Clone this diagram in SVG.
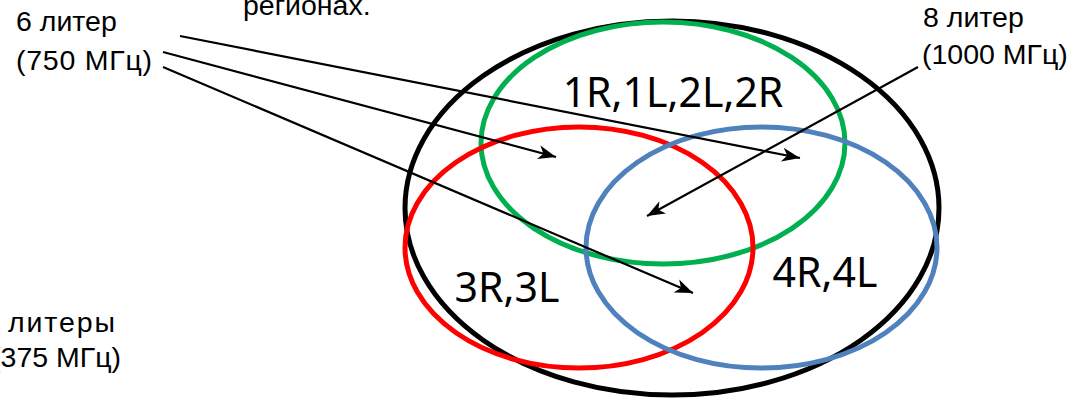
<svg xmlns="http://www.w3.org/2000/svg" width="1092" height="400" viewBox="0 0 1092 400">
  <style>
    .lbl { font-family: "Liberation Sans", Arial, sans-serif; font-size: 28.5px; fill: #000; }
    .big { font-family: "Noto Sans", "Liberation Sans", sans-serif; font-size: 41px; fill: #000; }
    .set { fill: none; stroke-width: 5; }
    .arrow { fill: none; stroke: #000; stroke-width: 2.2; marker-end: url(#head); }
  </style>
  <defs>
    <marker id="head" markerUnits="userSpaceOnUse" markerWidth="20" markerHeight="16" viewBox="0 0 20 16" refX="18" refY="8" orient="auto">
      <path d="M0,1 L18,8 L0,15 L5,8 Z" fill="#000"/>
    </marker>
  </defs>
  <rect width="1092" height="400" fill="#fff"/>

  <!-- sets -->
  <g id="outer"><ellipse class="set" cx="672" cy="208" rx="267" ry="187" stroke="#000" stroke-width="4.5"/></g>
  <g id="green-set"><ellipse class="set" cx="663" cy="143" rx="182" ry="121" stroke="#00B050"/></g>
  <g id="red-set"><ellipse class="set" cx="579" cy="247.5" rx="174" ry="120.5" stroke="#FF0000"/></g>
  <g id="blue-set"><ellipse class="set" cx="761.5" cy="247.5" rx="175.5" ry="120.5" stroke="#4F81BD"/></g>

  <!-- region labels -->
  <g id="region-top"><text class="big" x="673" y="107" text-anchor="middle">1R,1L,2L,2R</text></g>
  <g id="region-left"><text class="big" x="507" y="302" text-anchor="middle">3R,3L</text></g>
  <g id="region-right"><text class="big" x="825" y="287" text-anchor="middle">4R,4L</text></g>

  <!-- callout labels -->
  <g id="label-6">
    <text class="lbl" x="16" y="31">6 литер</text>
    <text class="lbl" x="16" y="70" textLength="136" lengthAdjust="spacing">(750 МГц)</text>
  </g>
  <g id="label-8">
    <text class="lbl" x="923" y="27">8 литер</text>
    <text class="lbl" x="922" y="64">(1000 МГц)</text>
  </g>
  <g id="label-4">
    <text class="lbl" x="8" y="332" textLength="107" lengthAdjust="spacing">литеры</text>
    <text class="lbl" x="121" y="367" text-anchor="end">(375 МГц)</text>
  </g>
  <g id="note"><text class="lbl" x="243" y="15">регионах.</text></g>

  <!-- connectors -->
  <g id="connectors">
    <line class="arrow" x1="180" y1="36" x2="800" y2="158"/>
    <line class="arrow" x1="163" y1="52" x2="556" y2="157"/>
    <line class="arrow" x1="163" y1="67" x2="693" y2="293"/>
    <line class="arrow" x1="918" y1="67" x2="647" y2="216"/>
  </g>
</svg>
